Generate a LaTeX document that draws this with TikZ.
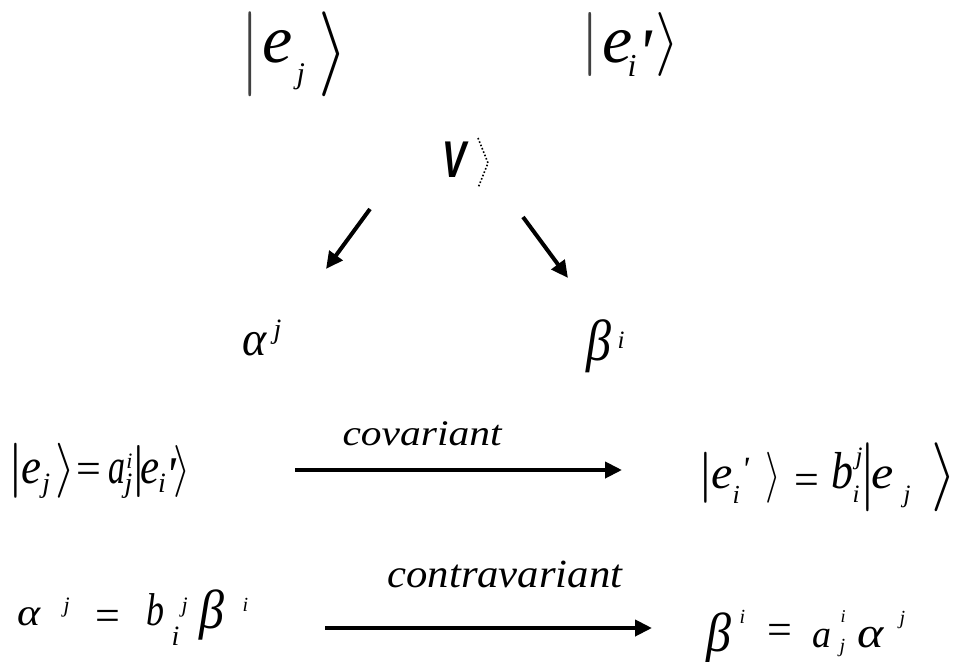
\documentclass[tikz,border=0pt]{standalone}
\usepackage{graphicx}
\usepackage{fontspec}
\setmainfont{Liberation Serif}
\setsansfont{Liberation Sans}
\newfontfamily\lsi{Liberation Serif Italic}
\newfontfamily\lsr{Liberation Serif}
\newfontfamily\lsbi{Liberation Sans Bold Italic}
\usetikzlibrary{arrows.meta}
% piece: x offset (px), raise (px), xscale, yscale, content
\newcommand\gpiece[5]{\makebox[0pt][l]{\hspace*{#1pt}\raisebox{#2pt}{\scalebox{#3}[#4]{#5}}}}
% letter set at its real size (10*yscale) and stretched horizontally
\newcommand\fpiece[6]{\pgfmathsetmacro\lxr{#3/#4}\pgfmathsetmacro\lsz{10*#4}%
  \gpiece{#1}{#2}{\lxr}{1}{\fontsize{\lsz pt}{\lsz pt}\selectfont#5#6}}
\newcommand\ltr[5]{\fpiece{#1}{#2}{#3}{#4}{\lsi}{#5}}
\newcommand\eqs[4]{\fpiece{#1}{#2}{#3}{#4}{\lsr}{=}}
\newcommand\vb{$|$}
\newcommand\ra{$\rangle$}
\tikzset{
  txt/.style={inner sep=0pt, outer sep=0pt, anchor=base west},
  arr/.style={line width=4pt, -{Triangle[length=17pt,width=16pt]}},
}
\begin{document}
\begin{tikzpicture}[x=1pt,y=-1pt]
\useasboundingbox[fill=white] (0,0) rectangle (971,661);
% ---- top kets
\node[txt] (ketL) at (0,63) {%
  \gpiece{240.3}{-12.75}{7}{8.5}{\color{black!75}\vb}%
  \ltr{262}{0}{6.8}{6.8}{e}%
  \ltr{296}{-20.4}{3.0}{3.0}{j}%
  \gpiece{317.8}{-12.75}{7.6}{8.5}{\ra}};
\node[txt] (ketR) at (0,63) {%
  \gpiece{580.3}{2}{7}{6.4}{\color{black!75}\vb}%
  \ltr{602}{0}{6.8}{6.8}{e}%
  \ltr{627}{-14}{3.2}{3.2}{i}%
  \ltr{637}{-13}{6.8}{6.8}{'}%
  \gpiece{654.6}{2}{6.2}{6.4}{\ra}};
% ---- V
\node[txt] (V) at (442,177) {\fpiece{0}{0}{3.6}{5.17}{\lsbi}{V}};
\draw[dotted, line width=1.6pt] (478,138) -- (488,163) -- (478,188);
% ---- alpha, beta
\node[txt] (alpha) at (0,355) {%
  \ltr{242}{0}{4.6}{4.9}{α}%
  \ltr{273}{17}{2.8}{2.8}{j}};
\node[txt] (beta) at (0,360) {%
  \ltr{586}{0}{5.0}{5.8}{β}%
  \ltr{617}{12}{2.5}{2.5}{i}};
% ---- diagonal arrows
\coordinate (d1s) at (370,209);
\coordinate (d1e) at (326,269);
\coordinate (d2s) at (523,217);
\coordinate (d2e) at (568,278);
\draw[arr] (d1s) -- (d1e);
\draw[arr] (d2s) -- (d2e);
% ---- row 3 (covariant)
\node[txt] (covL) at (0,483) {%
  \gpiece{6.7}{-1.25}{6}{5.5}{\vb}%
  \ltr{21}{0}{4.5}{5.0}{e}%
  \ltr{42}{-9}{2.8}{2.8}{j}%
  \gpiece{55.2}{-1.25}{5.1}{5.5}{\ra}%
  \eqs{75.5}{0}{4.4}{4.4}%
  \ltr{108}{0}{3.4}{5.0}{a}%
  \ltr{126}{15}{2.2}{2.2}{i}%
  \ltr{124}{-9}{2.8}{2.8}{j}%
  \gpiece{129.7}{-1}{6}{5.2}{\vb}%
  \ltr{140}{0}{4.3}{5.0}{e}%
  \ltr{157.5}{-9}{2.8}{2.8}{i}%
  \ltr{165}{-8}{5.0}{5.0}{'}%
  \gpiece{172.6}{-1}{4.4}{5.2}{\ra}};
\node[txt] (covR) at (0,488) {%
  \gpiece{696.7}{-2.25}{6}{5.1}{\vb}%
  \ltr{711}{0}{4.8}{4.6}{e}%
  \ltr{732}{-15}{2.6}{2.6}{i}%
  \ltr{741}{8}{3.4}{3.4}{'}%
  \gpiece{764.8}{-2.25}{4.0}{5.1}{\ra}%
  \eqs{793.5}{-6}{4.4}{4.4}%
  \ltr{831}{0}{4.4}{5.2}{b}%
  \ltr{855}{23.5}{2.5}{2.5}{j}%
  \ltr{852}{-14}{2.5}{2.5}{i}%
  \gpiece{858.7}{-6.75}{6}{6.9}{\vb}%
  \ltr{871}{0}{5.0}{4.6}{e}%
  \ltr{903}{-14}{2.5}{2.5}{j}%
  \gpiece{931.4}{-6.75}{6.5}{6.9}{\ra}};
\node[txt] (covlab) at (342,445) {\fpiece{0}{0}{4.15}{3.6}{\lsi}{covariant}};
\coordinate (c1s) at (295,470);
\coordinate (c1e) at (622,470);
\draw[arr] (c1s) -- (c1e);
% ---- row 4 (contravariant)
\node[txt] (conL) at (0,625) {%
  \ltr{17}{0}{4.4}{3.8}{α}%
  \ltr{63}{12.6}{2.2}{2.2}{j}%
  \eqs{95.5}{-5.5}{4.4}{4.4}%
  \ltr{146}{0}{3.6}{4.6}{b}%
  \ltr{171}{-20}{2.8}{2.8}{i}%
  \ltr{181}{12.6}{2.2}{2.2}{j}%
  \ltr{199}{-3}{5.0}{5.5}{β}%
  \ltr{242}{13.4}{2.0}{2.0}{i}};
\node[txt] (conR) at (0,647) {%
  \ltr{706}{-4}{5.0}{5.5}{β}%
  \ltr{739}{24}{2.0}{2.0}{i}%
  \eqs{766.5}{2.5}{4.4}{4.4}%
  \ltr{812}{0}{3.8}{3.9}{a}%
  \ltr{840}{25}{1.8}{1.8}{i}%
  \ltr{839}{-5}{2.0}{2.0}{j}%
  \ltr{857}{0}{5.0}{4.3}{α}%
  \ltr{899}{23}{2.0}{2.0}{j}};
\node[txt] (conlab) at (387,587) {\fpiece{0}{0}{4.27}{4.0}{\lsi}{contravariant}};
\coordinate (c2s) at (325,628);
\coordinate (c2e) at (652,628);
\draw[arr] (c2s) -- (c2e);
\end{tikzpicture}
\end{document}
